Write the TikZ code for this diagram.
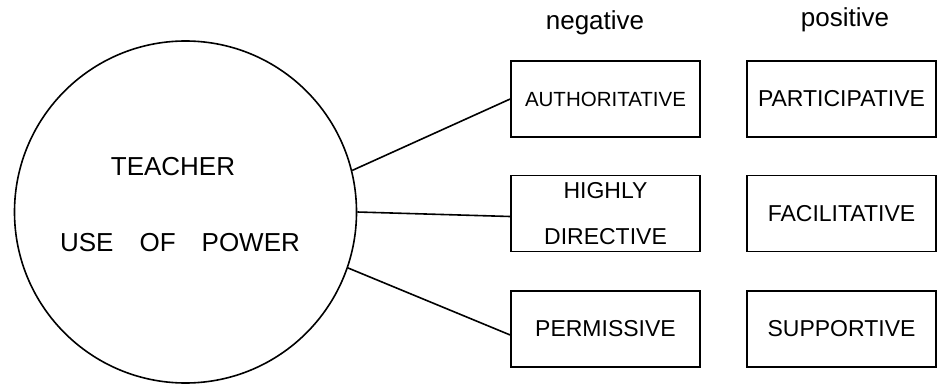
\documentclass[tikz,border=0pt]{standalone}
\usepackage{fontspec}
\setmainfont{Liberation Sans}
\usetikzlibrary{positioning}

\begin{document}
\begin{tikzpicture}[x=1pt,y=-1pt,line width=1.6pt,
  choice/.style={draw,minimum width=189pt,minimum height=76pt,inner sep=0pt,align=center,font=\fontsize{23}{27}\selectfont},
  big/.style={font=\fontsize{26}{30}\selectfont}]
\useasboundingbox (0,0) rectangle (937,385);
\node[circle,draw,minimum size=342pt,inner sep=0pt] (power) at (185.5,212) {};
\node[big] (teacher) at (173,167) {TEACHER};
\node[big] (use) at (180,243) {USE\hspace{26pt}OF\hspace{26pt}POWER};
\node[big,anchor=base] (neg) at (595,30) {negative};
\node[big,anchor=base] (pos) at (845,27) {positive};
\node[choice,font=\fontsize{20.5}{24}\selectfont] (auth) at (605.5,99) {AUTHORITATIVE};
\node[choice] (direct) at (605.5,213.5) {HIGHLY\\[19pt]DIRECTIVE};
\node[choice] (perm) at (605.5,329) {PERMISSIVE};
\node[choice] (part) at (841.5,99) {PARTICIPATIVE};
\node[choice] (facil) at (841.5,213.5) {FACILITATIVE};
\node[choice] (supp) at (841.5,329) {SUPPORTIVE};
\draw (power.14) -- (auth.west);
\draw (power.0) -- ([yshift=-3pt]direct.west);
\draw (power.-19) -- ([yshift=-6pt]perm.west);
\end{tikzpicture}
\end{document}
